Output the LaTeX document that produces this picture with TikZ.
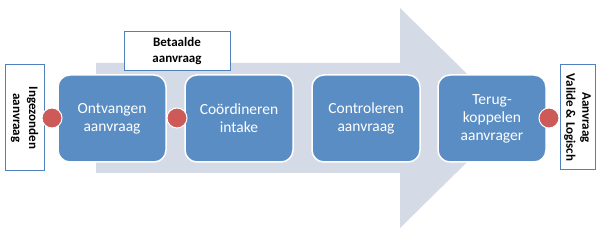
\documentclass[tikz,border=0pt]{standalone}
\usepackage{fontspec}
\setmainfont{Carlito}
\usepackage{tikz}
\usetikzlibrary{calc}

\definecolor{procblue}{RGB}{90,141,195}
\definecolor{arrowgray}{RGB}{213,219,230}
\definecolor{dotred}{RGB}{205,90,88}
\definecolor{edgeblue}{RGB}{79,129,189}

\begin{document}
\begin{tikzpicture}[x=1pt, y=-1pt,
	procbox/.style={draw=white, line width=1.5pt, fill=procblue, rounded corners=12pt,
		minimum width=108pt, minimum height=87pt, text=white, align=center,
		font=\fontsize{15.5}{18}\selectfont},
	labelbox/.style={draw=edgeblue, line width=1pt, fill=white, align=center,
		font=\bfseries\fontsize{13}{16}\selectfont},
	dot/.style={circle, draw=white, line width=1pt, fill=dotred, minimum size=20pt, inner sep=0pt}]
	\useasboundingbox (0,0) rectangle (600,232);
	% big background arrow
	\fill[arrowgray] (96,63) -- (400,63) -- (400,8) -- (512,118) -- (400,228) -- (400,173) -- (96,173) -- cycle;
	\node[labelbox, minimum width=106pt, minimum height=39pt] (paid) at (177,51.5) {Betaalde\\aanvraag};
	\node[labelbox, minimum width=106pt, minimum height=39pt, rotate=-90] (input) at (24.5,118) {Ingezonden\\aanvraag};
	\node[labelbox, minimum width=105pt, minimum height=35pt, rotate=-90] (output) at (577.5,117.5) {Aanvraag\\Valide \& Logisch};
	\node[procbox] (receive) at (112,118.5) {Ontvangen\\aanvraag};
	\node[procbox] (coord) at (239,118.5) {Coördineren\\intake};
	\node[procbox] (check) at (366,118.5) {Controleren\\aanvraag};
	\node[procbox] (feedback) at (492,118.5) {Terug-\\koppelen\\aanvrager};
	\node[dot] (in) at (52,118) {};
	\node[dot] (mid) at (177,118) {};
	\node[dot] (out) at (549,118) {};
\end{tikzpicture}
\end{document}
